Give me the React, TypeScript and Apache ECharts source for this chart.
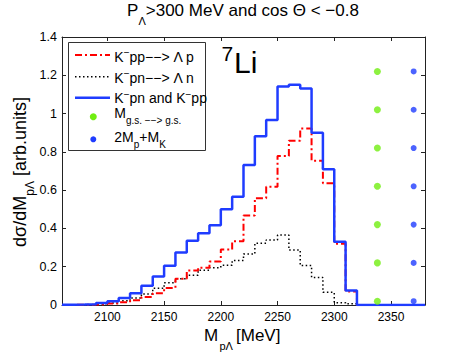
import React, { useEffect, useRef } from 'react';
import * as echarts from 'echarts';

// Bin edges (MeV), 10 MeV bins
const binEdges = [
  2060, 2070, 2080, 2090, 2100, 2110, 2120, 2130, 2140, 2150, 2160,
  2170, 2180, 2190, 2200, 2210, 2220, 2230, 2240, 2250, 2260, 2270,
  2280, 2290, 2300, 2310, 2320, 2330, 2340, 2350, 2360, 2370, 2380,
];

// K-pn and K-pp (sum), blue solid
const bothValues = [
  0.001, 0.002, 0.004, 0.010, 0.019, 0.036, 0.062, 0.100, 0.149, 0.205, 0.274,
  0.335, 0.375, 0.417, 0.500, 0.566, 0.731, 0.882, 0.966, 1.142, 1.150, 1.131,
  0.900, 0.709, 0.331, 0.076, 0, 0, 0, 0, 0, 0,
];

// K-pp --> Lambda p, red dash-dot
const kppValues = [
  0.0005, 0.001, 0.002, 0.004, 0.008, 0.014, 0.025, 0.042, 0.062, 0.089, 0.137,
  0.180, 0.195, 0.227, 0.290, 0.333, 0.468, 0.558, 0.618, 0.778, 0.858, 0.922,
  0.754, 0.636, 0.320, 0.070, 0, 0, 0, 0, 0, 0,
];

// K-pn --> Lambda n, black dotted
const kpnValues = [
  0.0005, 0.001, 0.002, 0.006, 0.011, 0.022, 0.037, 0.058, 0.087, 0.116, 0.137,
  0.155, 0.182, 0.195, 0.207, 0.232, 0.266, 0.323, 0.340, 0.366, 0.287, 0.206,
  0.144, 0.066, 0.012, 0.006, 0, 0, 0, 0, 0, 0,
];

const gsMass = 2338;
const thresholdMass = 2370;
const markerLevels = [0.02, 0.22, 0.42, 0.62, 0.82, 1.02, 1.22];
const xTicks = [2100, 2150, 2200, 2250, 2300, 2350];

const F = "'Liberation Sans', Arial, Helvetica, sans-serif";
const AX = '#222';

function stepData(vals: number[]) {
  const pts: number[][] = vals.map((v, i) => [binEdges[i], v]);
  pts.push([binEdges[vals.length], vals[vals.length - 1]]);
  return pts;
}

export default function App() {
  const ref = useRef<HTMLDivElement>(null);
  useEffect(() => {
    if (!ref.current) return;
    const chart = echarts.init(ref.current, undefined, { renderer: 'svg' });
    const m = (fs: number, lh: number) => ({ fontSize: fs, lineHeight: lh, fontFamily: F, fill: '#000' });
    const sub = (fs: number) => ({ fontSize: fs, lineHeight: fs, verticalAlign: 'bottom', fontFamily: F, fill: '#000' });
    const sup = (fs: number, lh: number) => ({ fontSize: fs, lineHeight: lh, verticalAlign: 'top', fontFamily: F, fill: '#000' });
    const plain = (text: string, x: number, y: number, fs: number) => ({
      type: 'text', x, y, z: 10,
      style: { text, fontSize: fs, fontFamily: F, fill: '#000', align: 'left', verticalAlign: 'middle' },
    });

    const xAxisBase = {
      type: 'value',
      min: binEdges[0],
      max: binEdges[binEdges.length - 1],
      splitLine: { show: false },
      axisLine: { show: true, onZero: false, lineStyle: { color: AX, width: 1 } },
      axisTick: { show: true, inside: true, length: 4, customValues: xTicks, lineStyle: { color: AX } },
    };
    const yAxisBase = {
      type: 'value',
      min: 0,
      max: 1.4,
      interval: 0.2,
      splitLine: { show: false },
      axisLine: { show: true, onZero: false, lineStyle: { color: AX, width: 1 } },
      axisTick: { show: true, inside: true, length: 4, lineStyle: { color: AX } },
    };

    chart.setOption({
      animation: false,
      backgroundColor: '#fff',
      grid: { left: 62, right: 44, top: 37, bottom: 47, containLabel: false, outerBoundsMode: 'none' },
      xAxis: [
        {
          ...xAxisBase,
          position: 'bottom',
          axisLabel: {
            customValues: xTicks, fontSize: 12, color: '#000', fontFamily: F, margin: 6,
            formatter: (v: number) => String(v),
          },
        },
        { ...xAxisBase, position: 'top', axisLabel: { show: false } },
      ],
      yAxis: [
        {
          ...yAxisBase,
          position: 'left',
          axisLabel: { fontSize: 12.5, color: '#000', fontFamily: F, margin: 5 },
        },
        { ...yAxisBase, position: 'right', axisLabel: { show: false } },
      ],
      series: [
        {
          type: 'line', step: 'end', data: stepData(kpnValues), showSymbol: false,
          lineStyle: { color: '#000', width: 1.5, type: [1.5, 2.5] }, z: 2,
        },
        {
          type: 'line', step: 'end', data: stepData(kppValues), showSymbol: false,
          lineStyle: { color: '#ff0000', width: 2, type: [7, 3, 2, 3] }, z: 3,
        },
        {
          type: 'line', step: 'end', data: stepData(bothValues), showSymbol: false,
          lineStyle: { color: '#1f3cff', width: 2.5 }, z: 4,
        },
        {
          type: 'scatter', data: markerLevels.map((v) => [gsMass, v]), symbolSize: 7,
          itemStyle: { color: '#70ee10' }, z: 5,
        },
        {
          type: 'scatter', data: markerLevels.map((v) => [thresholdMass, v]), symbolSize: 6,
          itemStyle: { color: '#1f3cff' }, z: 5,
        },
      ],
      graphic: [
        {
          type: 'text', x: 243, y: 10.5, z: 10,
          style: {
            text: '{m|P}{s|Λ}{m|>300 MeV and cos Θ < −0.8}',
            align: 'center', verticalAlign: 'middle',
            rich: { m: m(17, 32), s: sub(11) },
          },
        },
        // x-axis name, pieces
        plain('M', 204, 335, 17),
        plain('pΛ', 219.5, 346, 11),
        plain('[MeV]', 236, 335, 17),
        {
          type: 'text', x: 20, y: 172, rotation: Math.PI / 2, z: 10,
          style: {
            text: '{m|dσ/dM}{s|pΛ}{m| [arb.units]}',
            align: 'center', verticalAlign: 'middle',
            rich: { m: m(18, 32), s: sub(12) },
          },
        },
        plain('7', 221.5, 53.3, 21),
        plain('Li', 234, 62.5, 30),
        // legend
        {
          type: 'rect', z: 10,
          shape: { x: 68.5, y: 42.5, width: 137, height: 108 },
          style: { fill: '#fff', stroke: '#333', lineWidth: 1 },
        },
        {
          type: 'line', z: 11, shape: { x1: 75, y1: 55, x2: 110, y2: 55 },
          style: { stroke: '#ff0000', lineWidth: 2, lineDash: [7, 3, 2, 3] },
        },
        {
          type: 'line', z: 11, shape: { x1: 75, y1: 76.7, x2: 110, y2: 76.7 },
          style: { stroke: '#000', lineWidth: 1.5, lineDash: [1.5, 2.5] },
        },
        {
          type: 'line', z: 11, shape: { x1: 75, y1: 97.7, x2: 110, y2: 97.7 },
          style: { stroke: '#1f3cff', lineWidth: 2.5 },
        },
        { type: 'circle', z: 11, shape: { cx: 93.3, cy: 116.7, r: 3.5 }, style: { fill: '#70ee10' } },
        { type: 'circle', z: 11, shape: { cx: 93.3, cy: 139.3, r: 3 }, style: { fill: '#1f3cff' } },
        {
          type: 'text', x: 114.3, y: 56.5, z: 11,
          style: {
            text: '{m|K}{u|−}{m|pp−−> Λ p}', align: 'left', verticalAlign: 'middle',
            rich: { m: m(14, 18), u: sup(10, 10) },
          },
        },
        {
          type: 'text', x: 114.3, y: 77.7, z: 11,
          style: {
            text: '{m|K}{u|−}{m|pn−−> Λ n}', align: 'left', verticalAlign: 'middle',
            rich: { m: m(14, 18), u: sup(10, 10) },
          },
        },
        {
          type: 'text', x: 114.3, y: 98.3, z: 11,
          style: {
            text: '{m|K}{u|−}{m|pn and K}{u|−}{m|pp}', align: 'left', verticalAlign: 'middle',
            rich: { m: m(14, 18), u: sup(10, 10) },
          },
        },
        {
          type: 'text', x: 114.3, y: 113.3, z: 11,
          style: {
            text: '{m|M}{s|g.s. −−> g.s.}', align: 'left', verticalAlign: 'middle',
            rich: { m: m(14, 25), s: sub(10) },
          },
        },
        {
          type: 'text', x: 114.3, y: 136.7, z: 11,
          style: {
            text: '{m|2M}{s|p}{m|+M}{s|K}', align: 'left', verticalAlign: 'middle',
            rich: { m: m(14, 25), s: sub(10) },
          },
        },
      ],
    });
    return () => chart.dispose();
  }, []);
  return (
    <div
      ref={ref}
      style={{ position: 'absolute', left: 0, top: 0, width: 469, height: 352, background: '#fff' }}
    />
  );
}
